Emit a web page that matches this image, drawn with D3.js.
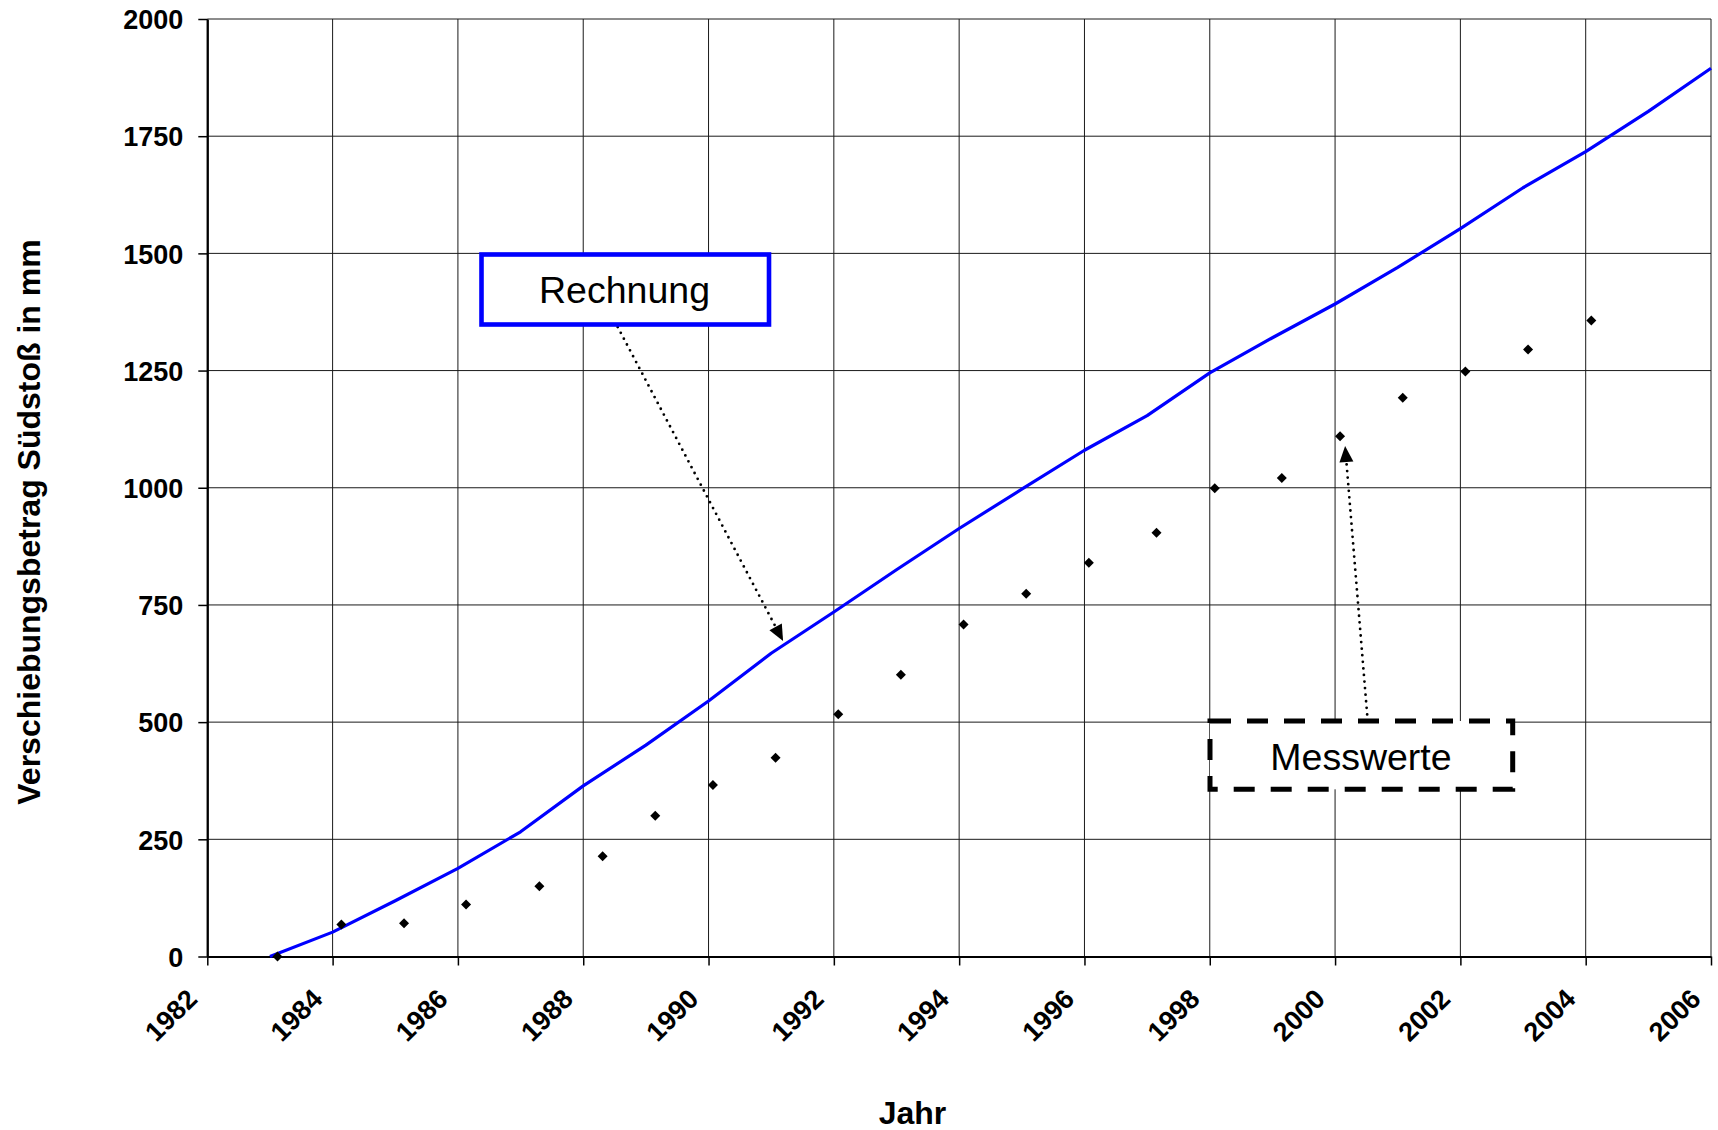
<!DOCTYPE html>
<html>
<head>
<meta charset="utf-8">
<script src="https://cdn.jsdelivr.net/npm/d3@7"></script>
<style>
  body { margin: 0; background: #fff; }
  svg { display: block; }
  text { font-family: "Liberation Sans", Arial, Helvetica, sans-serif; }
</style>
</head>
<body>
<svg id="chart" width="1718" height="1130"></svg>
<script>
// Calculated displacement (Rechnung), one value per year
const calcYears  = [1983, 1984, 1985, 1986, 1987, 1988, 1989, 1990, 1991, 1992, 1993, 1994,
                    1995, 1996, 1997, 1998, 1999, 2000, 2001, 2002, 2003, 2004, 2005, 2006];
const calcValues = [0, 52, 119, 188, 266, 364, 451, 545, 647, 735, 825, 913,
                    997, 1080, 1154, 1245, 1320, 1392, 1470, 1553, 1640, 1717, 1803, 1895];

// Measured displacement (Messwerte) at survey dates
const measYears  = [1983.12, 1984.14, 1985.14, 1986.13, 1987.30, 1988.31, 1989.15, 1990.07,
                    1991.07, 1992.07, 1993.07, 1994.07, 1995.07, 1996.07, 1997.15, 1998.08,
                    1999.15, 2000.08, 2001.08, 2002.08, 2003.08, 2004.09];
const measValues = [0, 68, 71, 111, 150, 214, 300, 366, 424, 517, 601, 708, 774, 840, 904, 999,
                    1021, 1110, 1192, 1248, 1295, 1357];

const xTicks = [1982, 1984, 1986, 1988, 1990, 1992, 1994, 1996, 1998, 2000, 2002, 2004, 2006];
const yTicks = [0, 250, 500, 750, 1000, 1250, 1500, 1750, 2000];

const xTitle = "Jahr";
const yTitle = "Verschiebungsbetrag Südstoß in mm";
const calcLabel = "Rechnung";
const measLabel = "Messwerte";

const svg = d3.select("#chart");
const plotL = 207.3, plotR = 1711, plotT = 19, plotB = 956.5;

const x = d3.scaleLinear().domain([1982, 2006]).range([plotL, plotR]);
const y = d3.scaleLinear().domain([0, 2000]).range([plotB, plotT]);

// grid
const grid = svg.append("g").attr("stroke", "#1a1a1a").attr("stroke-width", 1);
grid.selectAll("line.h").data(yTicks).join("line")
  .attr("class", "h")
  .attr("x1", plotL).attr("x2", plotR)
  .attr("y1", d => y(d)).attr("y2", d => y(d));
grid.selectAll("line.v").data(xTicks).join("line")
  .attr("class", "v")
  .attr("x1", d => x(d)).attr("x2", d => x(d))
  .attr("y1", plotT).attr("y2", plotB);

// axes
const xAxis = svg.append("g")
  .attr("transform", `translate(0,${plotB})`)
  .call(d3.axisBottom(x).tickValues(xTicks).tickFormat(d3.format("d")).tickSize(9).tickSizeOuter(0));
xAxis.select(".domain").attr("stroke", "#000").attr("stroke-width", 2.2);
xAxis.selectAll(".tick line").attr("stroke", "#000").attr("stroke-width", 1.5);
xAxis.selectAll(".tick text")
  .attr("font-size", 27).attr("font-weight", "bold").attr("fill", "#000")
  .attr("text-anchor", "end")
  .attr("x", 0).attr("y", 0).attr("dy", 0)
  .attr("transform", "translate(-9,44) rotate(-45)");

const yAxis = svg.append("g")
  .attr("transform", `translate(${plotL},0)`)
  .call(d3.axisLeft(y).tickValues(yTicks).tickFormat(d3.format("d")).tickSize(9).tickSizeOuter(0));
yAxis.select(".domain").attr("stroke", "#000").attr("stroke-width", 2.2);
yAxis.selectAll(".tick line").attr("stroke", "#000").attr("stroke-width", 1.5);
yAxis.selectAll(".tick text")
  .attr("font-size", 27).attr("font-weight", "bold").attr("fill", "#000")
  .attr("x", -24).attr("dy", "0.36em");

// axis titles
svg.append("text")
  .attr("x", 912.5).attr("y", 1124)
  .attr("text-anchor", "middle")
  .attr("font-size", 32).attr("font-weight", "bold")
  .text(xTitle);
svg.append("text")
  .attr("transform", "translate(40,522) rotate(-90)")
  .attr("text-anchor", "middle")
  .attr("font-size", 32).attr("font-weight", "bold")
  .text(yTitle);

// calculated line
const calc = calcYears.map((yr, i) => ({ yr, v: calcValues[i] }));
svg.append("path")
  .datum(calc)
  .attr("fill", "none")
  .attr("stroke", "#0000ff")
  .attr("stroke-width", 3.2)
  .attr("stroke-linejoin", "round")
  .attr("d", d3.line().x(d => x(d.yr)).y(d => y(d.v)));

// measured points (diamonds)
const meas = measYears.map((yr, i) => ({ yr, v: measValues[i] }));
svg.append("g").selectAll("path").data(meas).join("path")
  .attr("d", d3.symbol(d3.symbolSquare, 50)())
  .attr("transform", d => `translate(${x(d.yr)},${y(d.v)}) rotate(45)`)
  .attr("fill", "#000");

// dotted annotation arrows
function dottedArrow(x0, y0, x1, y1) {
  const dx = x1 - x0, dy = y1 - y0, len = Math.hypot(dx, dy);
  const ux = dx / len, uy = dy / len, nx = -uy, ny = ux;
  const headL = 16, headW = 7;
  const bx = x1 - ux * headL, by = y1 - uy * headL;
  svg.append("line")
    .attr("x1", x0).attr("y1", y0).attr("x2", bx).attr("y2", by)
    .attr("stroke", "#000").attr("stroke-width", 2.8)
    .attr("stroke-linecap", "round").attr("stroke-dasharray", "0 6.6");
  svg.append("path")
    .attr("d", `M${x1},${y1}L${bx + nx * headW},${by + ny * headW}L${bx - nx * headW},${by - ny * headW}Z`)
    .attr("fill", "#000");
}
dottedArrow(617.7, 327, x(1991.19), y(673));
dottedArrow(1367.7, 721, x(2000.16), y(1089));

// label boxes
svg.append("rect")
  .attr("x", 481.5).attr("y", 254.5).attr("width", 287.5).attr("height", 70)
  .attr("fill", "#fff").attr("stroke", "#0000ff").attr("stroke-width", 4.6);
svg.append("text")
  .attr("x", 624.5).attr("y", 302.5).attr("text-anchor", "middle")
  .attr("font-size", 37.5).attr("fill", "#000")
  .text(calcLabel);

svg.append("rect")
  .attr("x", 1210).attr("y", 721).attr("width", 302.7).attr("height", 68.3)
  .attr("fill", "#fff").attr("stroke", "#000").attr("stroke-width", 5)
  .attr("stroke-dasharray", "21 16");
svg.append("text")
  .attr("x", 1361).attr("y", 770).attr("text-anchor", "middle")
  .attr("font-size", 37.5).attr("fill", "#000")
  .text(measLabel);
</script>
</body>
</html>
